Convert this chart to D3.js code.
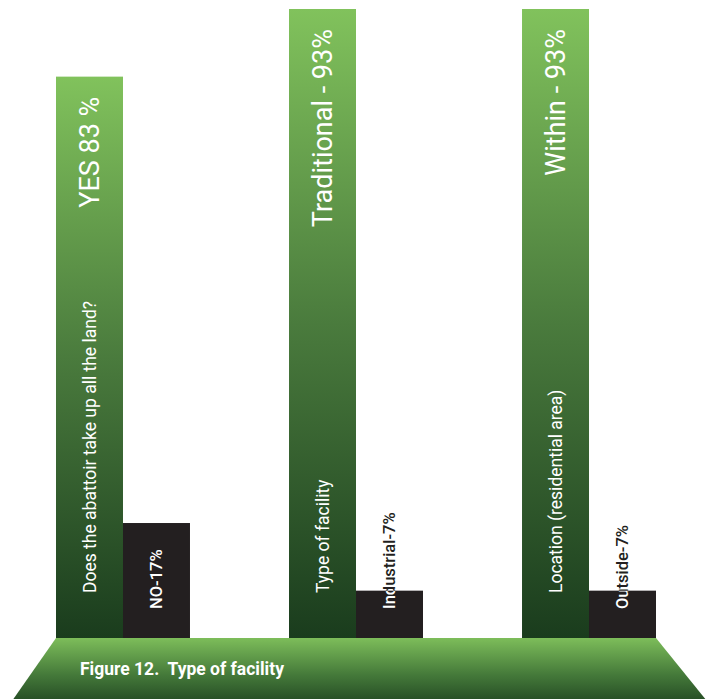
<!DOCTYPE html>
<html>
<head>
<meta charset="utf-8">
<script src="https://cdn.jsdelivr.net/npm/d3@7"></script>
<style>
  html, body { margin: 0; padding: 0; background: #ffffff; }
  svg { display: block; }
  text { font-family: Roboto, "Noto Sans", sans-serif; white-space: pre; }
</style>
</head>
<body>
<svg id="chart" width="707" height="699"></svg>
<script>
// Survey questions (one group of bars each)
const questions = ["Does the abattoir take up all the land?", "Type of facility", "Location (residential area)"];
// Main answer (green bar) per question
const mainAnswers = ["YES", "Traditional", "Within"];
const mainValues = [83, 93, 93];
const mainLabels = ["YES 83 %", "Traditional - 93%", "Within - 93%"];
// Other answer (dark bar) per question
const otherAnswers = ["NO", "Industrial", "Outside"];
const otherValues = [17, 7, 7];
const otherLabels = ["NO-17%", "Industrial-7%", "Outside-7%"];
const figureTitle = "Figure 12.  Type of facility";

const svg = d3.select("#chart");
const W = 707, H = 699;
const baseY = 638;   // bar baseline (top of the platform)
const topY = 9;

const rows = questions.map((q, i) => ({
  q, i,
  bars: [
    { kind: "main", value: mainValues[i], label: mainLabels[i], answer: mainAnswers[i] },
    { kind: "other", value: otherValues[i], label: otherLabels[i], answer: otherAnswers[i] }
  ]
}));

const x0 = d3.scaleBand().domain(d3.range(questions.length)).range([56, 656]).paddingInner(0.425).paddingOuter(0);
const x1 = d3.scaleBand().domain(["main", "other"]).range([0, x0.bandwidth()]).padding(0);
const y = d3.scaleLinear().domain([0, d3.max(mainValues.concat(otherValues))]).range([baseY, topY]);

const defs = svg.append("defs");
const gBar = defs.append("linearGradient").attr("id", "greenBar")
  .attr("x1", 0).attr("y1", 0).attr("x2", 0).attr("y2", 1);
gBar.append("stop").attr("offset", 0).attr("stop-color", "#81c25c");
gBar.append("stop").attr("offset", 0.5).attr("stop-color", "#4a7b3d");
gBar.append("stop").attr("offset", 1).attr("stop-color", "#1a3c1d");

const gBase = defs.append("linearGradient").attr("id", "greenBase")
  .attr("x1", 0).attr("y1", 0).attr("x2", 0).attr("y2", 1);
gBase.append("stop").attr("offset", 0).attr("stop-color", "#7dbd5a");
gBase.append("stop").attr("offset", 0.5).attr("stop-color", "#457a3a");
gBase.append("stop").attr("offset", 1).attr("stop-color", "#1a3c1d");

// clip paths so that dark-bar labels are white over the bar and dark elsewhere
rows.forEach(r => {
  const b = r.bars[1];
  defs.append("clipPath").attr("id", "clipOther" + r.i)
    .append("rect")
    .attr("x", x0(r.i) + x1("other"))
    .attr("y", y(b.value))
    .attr("width", x1.bandwidth())
    .attr("height", baseY - y(b.value));
});

// platform under the bars
const platform = [[56, baseY], [656, baseY], [707 + 8, H + 12], [13 - 8, H + 12]];
svg.append("path")
  .attr("d", d3.line()(platform) + "Z")
  .attr("fill", "url(#greenBase)");

svg.append("text")
  .attr("x", 80).attr("y", 675)
  .attr("fill", "#ffffff")
  .attr("font-size", 17.5)
  .attr("font-weight", 700)
  .text(figureTitle);

const groups = svg.selectAll("g.group").data(rows).join("g")
  .attr("class", "group")
  .attr("transform", d => `translate(${x0(d.i)},0)`);

groups.selectAll("rect.bar").data(d => d.bars).join("rect")
  .attr("class", "bar")
  .attr("x", d => x1(d.kind))
  .attr("y", d => y(d.value))
  .attr("width", x1.bandwidth())
  .attr("height", d => baseY - y(d.value))
  .attr("fill", d => d.kind === "main" ? "url(#greenBar)" : "#231f20");

// value label near the top of each green bar
groups.append("text")
  .attr("transform", d => `translate(${x1("main") + x1.bandwidth() / 2},${y(d.bars[0].value) + 20}) rotate(-90)`)
  .attr("text-anchor", "end")
  .attr("dy", "0.35em")
  .attr("fill", "#ffffff")
  .attr("font-size", 27)
  .text(d => d.bars[0].label);

// question label at the bottom of each green bar
groups.append("text")
  .attr("transform", `translate(${x1("main") + x1.bandwidth() / 2},593) rotate(-90)`)
  .attr("text-anchor", "start")
  .attr("dy", "0.35em")
  .attr("fill", "#ffffff")
  .attr("font-size", 17.5)
  .text(d => d.q);

// dark-bar labels: dark copy, then white copy clipped to the bar
const otherLabel = (sel, colour) => sel.append("text")
  .attr("transform", `translate(${x1("other") + x1.bandwidth() / 2},609) rotate(-90)`)
  .attr("text-anchor", "start")
  .attr("dy", "0.35em")
  .attr("fill", colour)
  .attr("font-size", 16.5)
  .attr("font-weight", 500)
  .text(d => d.bars[1].label);

otherLabel(groups, "#231f20");
const clipped = svg.selectAll("g.clipped").data(rows).join("g")
  .attr("class", "clipped")
  .attr("clip-path", d => `url(#clipOther${d.i})`)
  .append("g")
  .attr("transform", d => `translate(${x0(d.i)},0)`);
otherLabel(clipped, "#ffffff");
</script>
</body>
</html>
